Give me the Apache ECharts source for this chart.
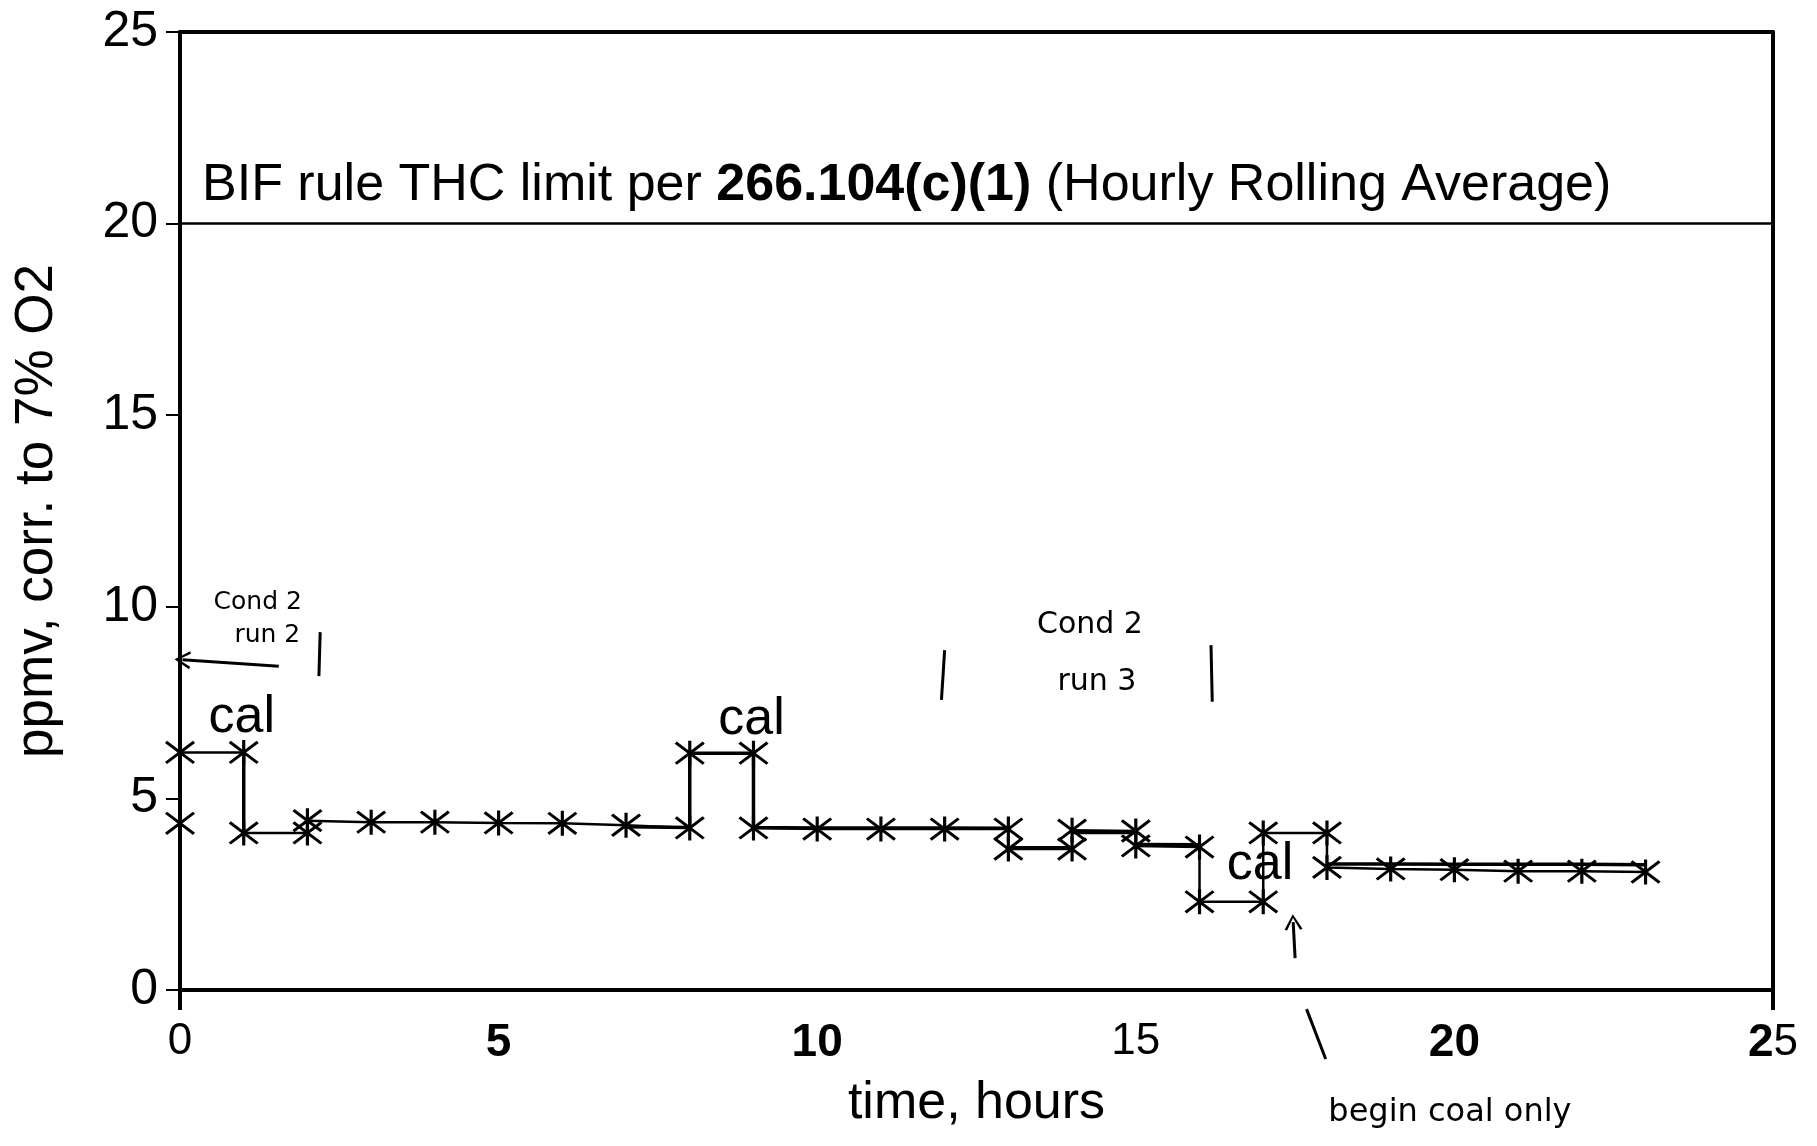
<!DOCTYPE html>
<html><head><meta charset="utf-8">
<script src="https://cdn.jsdelivr.net/npm/echarts@6/dist/echarts.min.js"></script>
<style>html,body{margin:0;padding:0;background:#fff}#c{width:1817px;height:1146px}</style>
</head><body><div id="c"></div>
<script>
// ---- data (hours, ppmv corr. to 7% O2) ----
const calStart   = [[0,6.2],[1,6.2],[1,4.1],[2,4.1]];
const startPoint = [[0,4.35]];
const run2       = [[2,4.42],[3,4.38],[4,4.38],[5,4.36],[6,4.35],[7,4.3],[8,4.23],[8,6.18],[9,6.18],[9,4.23],[10,4.2],[11,4.2],[12,4.2],[13,4.2]];
const lowSeg     = [[13,3.68],[14,3.68]];
const highSeg    = [[14,4.17],[15,4.15]];
const run3       = [[15,3.76],[16,3.73],[16,2.3],[17,2.3],[17,4.1],[18,4.1],[18,3.2],[19,3.16],[20,3.14],[21,3.1],[22,3.1],[23,3.08]];
// second (overlapping) trace, drawn as thicker lines without markers
const ovA = [[1,6.2],[1,4.1]];
const ovB = [[7,4.26],[8,4.24],[8,6.18],[9,6.18],[9,4.24],[10,4.23],[11,4.23],[12,4.23],[13,4.22]];
const ovC = [[13,3.71],[14,3.71]];
const ovD = [[14,4.11],[15,4.11]];
const ovE = [[15,3.8],[16,3.79]];
const ovF = [[18,3.29],[19,3.29],[20,3.28],[21,3.28],[22,3.28],[23,3.27]];
const limitValue = 20;
const limitText = ['BIF rule THC limit per ', '266.104(c)(1)', ' (Hourly Rolling Average)'];
const xTickBold = {0:'n',5:'b',10:'b',15:'n',20:'b',25:'m'};
const calLabels = [[0.97,7.12],[8.97,7.05],[16.95,3.26]];
const noteTexts = [
  {t:'Cond 2', p:[1.22,10.1], s:25},
  {t:'run 2',  p:[1.37,9.24], s:25},
  {t:'Cond 2', p:[14.28,9.52], s:30},
  {t:'run 3',  p:[14.39,8.04], s:30},
  {t:'begin coal only', p:[19.93,-3.2], s:32}
];
const noteLines = [
  [[-0.07,0.86],[-0.07,9.08]],
  [[2.18,8.19],[2.2,9.34]],
  [[11.95,7.57],[12.0,8.87]],
  [[16.2,7.52],[16.18,9.0]],
  [[17.98,-1.8],[17.68,-0.5]]
];
const noteArrows = [
  [[1.55,8.45],[0.04,8.62]],
  [[17.5,0.83],[17.47,1.77]]
];

const FONT = 'Liberation Sans, Arial, Helvetica, sans-serif';
const HAND = 'DejaVu Sans, sans-serif';
const AST = 'path://M15,0L15,26M0,2L30,24M0,24L30,2';
const ARROW = 'path://M0,10L5,0L10,10L8.6,10.6L5,2.6L1.4,10.6Z';

function trace(name, data) {
  return {
    name, type:'line', data, clip:false,
    symbol: AST, symbolSize:[28,25], showAllSymbol:true,
    itemStyle:{color:'#000', borderColor:'#000', borderWidth:3},
    lineStyle:{color:'#000', width:2.5},
    z:3
  };
}
function overlay(name, data) {
  return {
    name, type:'line', data, clip:false, showSymbol:false, symbol:'none',
    lineStyle:{color:'#000', width:3.5}, z:2
  };
}
function noteLine(i, data) {
  return {
    name:'note'+i, type:'line', data, clip:false, showSymbol:false, symbol:'none',
    lineStyle:{color:'#000', width:3}, z:6, silent:true
  };
}

const chart = echarts.init(document.getElementById('c'), null, {renderer:'canvas'});
chart.setOption({
  animation:false,
  backgroundColor:'#fff',
  grid:{left:180, right:44, top:32, bottom:156, outerBoundsMode:'none'},
  xAxis:[
    {type:'value', min:0, max:25, interval:5, position:'bottom',
     axisLine:{show:true, onZero:false, lineStyle:{color:'#000', width:4}},
     axisTick:{show:false}, splitLine:{show:false},
     axisLabel:{margin:30, color:'#000', fontFamily:FONT,
       formatter:v => { const k=xTickBold[v]; if(k==='b') return '{b|'+v+'}'; if(k==='m') return '{b|2}{n|5}'; return '{n|'+v+'}'; },
       rich:{b:{fontSize:46, fontWeight:'bold', fontFamily:FONT, color:'#000'}, n:{fontSize:44, fontFamily:FONT, color:'#000'}}},
     name:'time, hours', nameLocation:'middle', nameGap:88,
     nameTextStyle:{fontSize:52, fontFamily:FONT, color:'#000'}},
    {type:'value', min:0, max:25, interval:25, position:'bottom',
     axisLine:{show:false}, axisLabel:{show:false}, splitLine:{show:false},
     axisTick:{show:true, length:20, lineStyle:{color:'#000', width:4}}},
    {type:'value', min:0, max:25, position:'top',
     axisLine:{show:true, onZero:false, lineStyle:{color:'#000', width:4}},
     axisTick:{show:false}, axisLabel:{show:false}, splitLine:{show:false}}
  ],
  yAxis:[
    {type:'value', min:0, max:25, interval:5, position:'left',
     axisLine:{show:true, onZero:false, lineStyle:{color:'#000', width:4}},
     axisTick:{show:true, inside:false, length:14, lineStyle:{color:'#000', width:2}},
     splitLine:{show:false},
     axisLabel:{margin:22, fontSize:50, fontFamily:FONT, color:'#000'},
     name:'ppmv, corr. to 7% O2', nameLocation:'middle', nameRotate:90, nameGap:116,
     nameTextStyle:{fontSize:53, fontFamily:FONT, color:'#000'}},
    {type:'value', min:0, max:25, position:'right',
     axisLine:{show:true, onZero:false, lineStyle:{color:'#000', width:4}},
     axisTick:{show:false}, axisLabel:{show:false}, splitLine:{show:false}}
  ],
  series:[
    trace('cal start', calStart),
    trace('start', startPoint),
    trace('run 2', run2),
    trace('low', lowSeg),
    trace('high', highSeg),
    trace('run 3', run3),
    overlay('ovA', ovA), overlay('ovB', ovB), overlay('ovC', ovC),
    overlay('ovD', ovD), overlay('ovE', ovE), overlay('ovF', ovF),
    ...noteLines.map((l,i) => noteLine(i, l)),
    {
      name:'texts', type:'scatter', clip:false, silent:true, z:5,
      symbolSize:0, itemStyle:{opacity:1, color:'#000'},
      data:[
        ...calLabels.map(p => ({value:p, label:{show:true, position:'inside', formatter:'cal', fontSize:52, fontFamily:FONT, color:'#000', opacity:1}})),
        ...noteTexts.map(n => ({value:n.p, label:{show:true, position:'inside', formatter:n.t, fontSize:n.s, fontFamily:HAND, color:'#000', opacity:1}}))
      ]
    },
    {
      name:'limit', type:'line', data:[], clip:false, z:4,
      markLine:{
        silent:true, symbol:'none', animation:false,
        label:{show:false},
        lineStyle:{color:'#000', width:3, type:'solid'},
        data:[
          [{yAxis:limitValue, x:180, lineStyle:{width:2.5},
            label:{show:true, position:'insideStartTop', distance:[22,12],
              formatter:'{n|'+limitText[0]+'}{b|'+limitText[1]+'}{n|'+limitText[2]+'}',
              rich:{n:{fontSize:52, fontFamily:FONT, color:'#000'}, b:{fontSize:52, fontFamily:FONT, fontWeight:'bold', color:'#000'}}}},
           {yAxis:limitValue, x:1773}],
          ...noteArrows.map(l => [{coord:l[0], symbol:'none'}, {coord:l[1], symbol:ARROW, symbolSize:[18,16]}])
        ]
      }
    }
  ]
});
</script></body></html>
